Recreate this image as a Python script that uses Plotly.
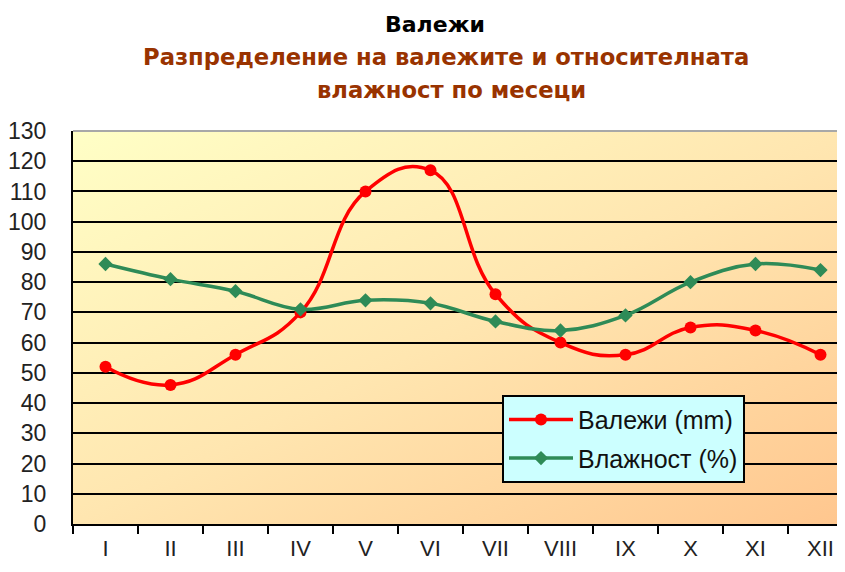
import base64
import plotly.graph_objects as go

months = ["I", "II", "III", "IV", "V", "VI", "VII", "VIII", "IX", "X", "XI", "XII"]
rain_mm = [52, 46, 56, 70, 110, 117, 76, 60, 56, 65, 64, 56]
humidity_pct = [86, 81, 77, 71, 74, 73, 67, 64, 69, 80, 86, 84]
y_ticks = list(range(0, 131, 10))

# page body has an 8px default margin, so the figure sits 8px right/down
OFF = 8
W, H = 845, 572
SX0, SX1 = 73, 853      # plot area left/right on screen
SY0, SY1 = 130.5, 524.5  # plot area top/bottom on screen
L = SX0 - OFF
R = W - (SX1 - OFF)
T = SY0 - OFF
B = H - (SY1 - OFF)
PW = SX1 - SX0
PH = SY1 - SY0


def px_x(sx):
    return (sx - SX0) / PW


def px_y(sy):
    return (SY1 - sy) / PH


svg = (
    "<svg xmlns='http://www.w3.org/2000/svg' width='200' height='200' preserveAspectRatio='none'>"
    "<defs><linearGradient id='g' x1='0' y1='0' x2='1' y2='1'>"
    "<stop offset='0' stop-color='#FFFFC6'/>"
    "<stop offset='0.5' stop-color='#FFE6B0'/>"
    "<stop offset='1' stop-color='#FFC68E'/>"
    "</linearGradient></defs>"
    "<rect width='200' height='200' fill='url(#g)'/></svg>"
)
svg_uri = "data:image/svg+xml;base64," + base64.b64encode(svg.encode()).decode()

font_main = "Liberation Sans, Arial, sans-serif"
font_title = "DejaVu Sans, Verdana, sans-serif"

fig = go.Figure()
fig.add_trace(go.Scatter(
    x=months, y=rain_mm, name="Валежи (mm)", mode="lines+markers",
    line=dict(color="#FF0000", width=3.5, shape="spline", smoothing=1.3),
    marker=dict(symbol="circle", size=12, color="#FF0000"),
    legendgroup="a",
))
fig.add_trace(go.Scatter(
    x=months, y=humidity_pct, name="Влажност (%)", mode="lines+markers",
    line=dict(color="#2E8B57", width=3.5, shape="spline", smoothing=1.1),
    marker=dict(symbol="diamond", size=11, color="#2E8B57"),
    legendgroup="b",
))

fig.update_layout(
    width=W, height=H,
    margin=dict(l=L, r=R, t=T, b=B, pad=0),
    paper_bgcolor="white",
    plot_bgcolor="rgba(0,0,0,0)",
    showlegend=True,
    legend=dict(
        x=px_x(502), y=px_y(395), xanchor="left", yanchor="top",
        bgcolor="#CCFFFF", bordercolor="black", borderwidth=2,
        font=dict(family=font_main, size=25, color="#111"),
        itemwidth=64, tracegroupgap=3, traceorder="grouped",
    ),
    xaxis=dict(
        type="category", categoryorder="array", categoryarray=months,
        range=[-0.5, 11.5], showgrid=False, zeroline=False,
        showline=True, linecolor="black", linewidth=2,
        ticks="outside", ticklen=8, tickwidth=2, tickcolor="black",
        tickson="boundaries", ticklabelstandoff=4,
        tickfont=dict(family=font_main, size=22, color="#222"),
    ),
    yaxis=dict(
        range=[0, 130], tickvals=y_ticks, showgrid=True,
        gridcolor="black", gridwidth=2, zeroline=False,
        showline=True, linecolor="black", linewidth=2,
        ticks="", ticklabelstandoff=20,
        tickfont=dict(family=font_main, size=23, color="#222"),
    ),
    images=[dict(
        source=svg_uri, xref="paper", yref="paper", x=0, y=1,
        sizex=1, sizey=1, sizing="stretch", layer="below",
        xanchor="left", yanchor="top",
    )],
    shapes=[dict(
        type="line", xref="paper", yref="paper", x0=0, x1=1, y0=1, y1=1,
        line=dict(color="#A8A8A8", width=2), layer="above",
    )],
    annotations=[
        dict(text="<b>Валежи</b>", x=px_x(435), y=px_y(24), xref="paper", yref="paper",
             showarrow=False, xanchor="center", yanchor="middle",
             font=dict(family=font_title, size=22, color="black")),
        dict(text="<b>Разпределение на валежите и относителната</b>", x=px_x(446), y=px_y(56),
             xref="paper", yref="paper", showarrow=False, xanchor="center", yanchor="middle",
             font=dict(family=font_title, size=22.7, color="#993300")),
        dict(text="<b>влажност по месеци</b>", x=px_x(451), y=px_y(89),
             xref="paper", yref="paper", showarrow=False, xanchor="center", yanchor="middle",
             font=dict(family=font_title, size=22.7, color="#993300")),
    ],
)

fig.write_html("out.html")
